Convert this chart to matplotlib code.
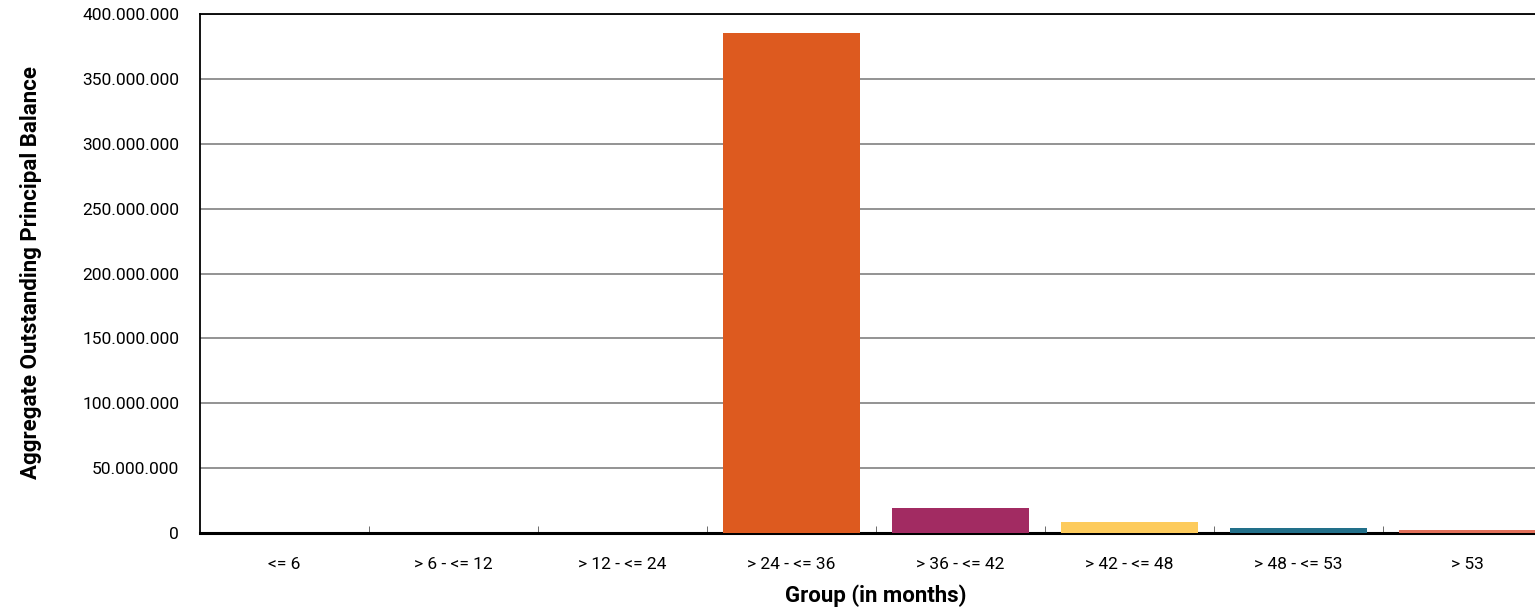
import matplotlib
matplotlib.use("Agg")
from matplotlib import pyplot as plt
from matplotlib.ticker import FuncFormatter
import numpy as np

plt.rcParams['font.family'] = ['Roboto', 'DejaVu Sans']

groups = ['<= 6', '> 6 - <= 12', '> 12 - <= 24', '> 24 - <= 36',
          '> 36 - <= 42', '> 42 - <= 48', '> 48 - <= 53', '> 53']
balance = [0, 0, 0, 385_500_000, 19_300_000, 8_700_000, 3_900_000, 2_300_000]
colors = ['#3A6FA8', '#6E9C3F', '#8B5FA8', '#DD5A1F', '#A22B62',
          '#FDCB5C', '#22708A', '#E2705A']

fig = plt.figure(figsize=(15.35, 6.13), dpi=100)
W, H = 1535, 613
ax = fig.add_axes([200 / W, (H - 533) / H, 1352 / W, 519 / H])

x = np.arange(len(groups))
ax.bar(x, balance, width=0.81, color=colors, zorder=3)

ax.set_xlim(-0.5, len(groups) - 0.5)
ax.set_ylim(0, 400_000_000)
ax.set_yticks(np.arange(0, 400_000_001, 50_000_000))
ax.yaxis.set_major_formatter(FuncFormatter(lambda v, p: f"{int(v):,}".replace(",", ".")))
ax.grid(axis='y', color='#808080', linewidth=1.2, zorder=0)

ax.set_xticks(x)
ax.set_xticklabels(groups)
ax.set_xticks(np.arange(0.5, len(groups) - 0.5, 1), minor=True)
ax.tick_params(axis='x', which='major', length=0, pad=17, labelsize=12.5)
ax.tick_params(axis='x', which='minor', direction='in', length=5, color='#555555')
ax.tick_params(axis='y', length=0, pad=15, labelsize=12.5)

for s in ['left', 'top']:
    ax.spines[s].set_linewidth(1.3)
ax.spines['bottom'].set_linewidth(2.2)
ax.spines['right'].set_visible(False)

ax.set_xlabel('Group (in months)', fontsize=16, fontweight='bold', labelpad=9)
fig.text(31 / W, 1 - 273 / H, 'Aggregate Outstanding Principal Balance', rotation=90,
         fontsize=16, fontweight='bold', ha='center', va='center')

fig.savefig('out.png', dpi=100)
